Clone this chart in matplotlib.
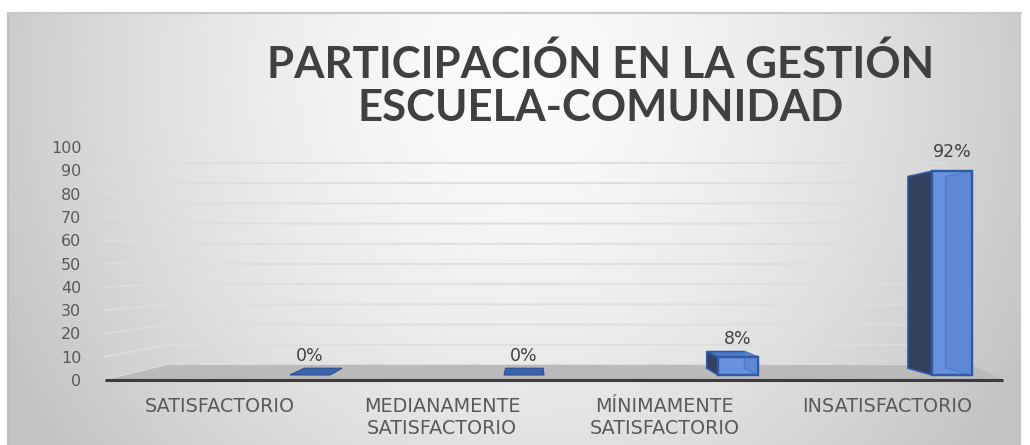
import numpy as np
import matplotlib
matplotlib.use("Agg")
import matplotlib.pyplot as plt
from matplotlib.patches import Polygon

# ---------------- data ----------------
categories = ["SATISFACTORIO", "MEDIANAMENTE\nSATISFACTORIO",
              "MÍNIMAMENTE\nSATISFACTORIO", "INSATISFACTORIO"]
values = [0, 0, 8, 92]
value_labels = ["0%", "0%", "8%", "92%"]
yticks = list(range(0, 101, 10))
title_lines = ["PARTICIPACIÓN EN LA GESTIÓN", "ESCUELA-COMUNIDAD"]

# ---------------- layout / style constants ----------------
W_PX, H_PX = 1030, 445
XLIM = (-0.517, 3.531)
YLIM = (0, 100)
VP_X, VP_Y, K = 1.394, 50.6, 0.94          # pseudo-3D vanishing point / depth shrink
BAR_X0, BAR_STEP, BAR_W = 0.315, 0.9627, 0.18
BAR_B, BAR_SCALE = 2.15, 0.951
FLOOR_BACK_Y, FLOOR_BACK_L, FLOOR_BACK_R = 6.44, -0.234, 3.374
WALL_SCALE, GRID_R = 0.867, 3.27

FRONT = "#6893dc"
EDGE = "#2f5aa8"
SIDE = "#34415d"
TOPC = "#4d78c6"
FLAT = "#3b62ad"
TXT = "#595959"

fig = plt.figure(figsize=(W_PX / 100, H_PX / 100), dpi=100)
fig.patch.set_facecolor("white")

# background gradient (chart area)
bg = fig.add_axes([0, 0, 1, 1])
bg.axis("off")
xx, yy = np.meshgrid(np.arange(8, 1021), np.arange(13, 446))
r = np.sqrt(((xx - 515) / 560.0) ** 2 + ((yy - 80) / 600.0) ** 2)
val = np.clip(252 - 55 * r ** 1.5, 195, 255) / 255.0
img = np.dstack([val, val, val])
bg.imshow(img, extent=(8, 1021, 446, 13), aspect="auto", zorder=0)
bg.plot([8, 8], [13, 445], color="#bdbdbd", lw=1.5, zorder=1)
bg.plot([8, 1021], [13, 13], color="#c8c8c8", lw=1.5, zorder=1)
bg.set_xlim(0, W_PX)
bg.set_ylim(H_PX, 0)

# main axes
ax = fig.add_axes([105 / W_PX, (H_PX - 380) / H_PX, 900 / W_PX, 233 / H_PX])
ax.set_xlim(*XLIM)
ax.set_ylim(*YLIM)
ax.patch.set_alpha(0)
for s in ax.spines.values():
    s.set_visible(False)


def proj(x, y):
    return VP_X + K * (x - VP_X), VP_Y + K * (y - VP_Y)


# grid lines (left wall + back wall)
for v in yticks:
    yb = FLOOR_BACK_Y + WALL_SCALE * v
    ax.plot([XLIM[0], FLOOR_BACK_L, GRID_R], [v, yb, yb], color="#dddddd",
            lw=1.3, zorder=1, clip_on=False, solid_joinstyle="miter")

# floor
floor = Polygon([(XLIM[0], 0), (XLIM[1], 0), (FLOOR_BACK_R, FLOOR_BACK_Y),
                 (FLOOR_BACK_L, FLOOR_BACK_Y)], closed=True, facecolor="#bababa",
                edgecolor="none", zorder=2, clip_on=False)
ax.add_patch(floor)
ax.plot([XLIM[0], XLIM[1] - 0.01], [0, 0], color="#3c3c3c", lw=2.2, zorder=3,
        clip_on=False, solid_capstyle="butt")

# bars
for i, v in enumerate(values):
    L = BAR_X0 + BAR_STEP * i
    R = L + BAR_W
    B = BAR_B
    T = B + BAR_SCALE * v
    if v == 0:
        pts = [(L, B), (R, B), proj(R, B), proj(L, B)]
        ax.add_patch(Polygon(pts, closed=True, facecolor=FLAT, edgecolor="#2c4f93",
                             lw=0.8, zorder=4, clip_on=False))
    else:
        sx = L if L > VP_X else R
        side = [(sx, B), (sx, T), proj(sx, T), proj(sx, B)]
        ax.add_patch(Polygon(side, closed=True, facecolor=SIDE, edgecolor=EDGE,
                             lw=1.2, zorder=4, clip_on=False))
        if T < VP_Y:
            top = [(L, T), (R, T), proj(R, T), proj(L, T)]
            ax.add_patch(Polygon(top, closed=True, facecolor=TOPC, edgecolor=EDGE,
                                 lw=1.2, zorder=4, clip_on=False))
        ax.add_patch(Polygon([(L, B), (R, B), (R, T), (L, T)], closed=True,
                             facecolor=FRONT, edgecolor=EDGE, lw=1.6, zorder=5,
                             clip_on=False))
        ox = R if L > VP_X else L
        far = [(ox, B), (ox, T), proj(ox, T), proj(ox, B)]
        ax.add_patch(Polygon(far, closed=True, facecolor="#5f88d2", edgecolor="#4f7cc8",
                             lw=1.0, zorder=6, clip_on=False, alpha=0.9))
        ax.add_patch(Polygon([(L, B), (R, B), (R, T), (L, T)], closed=True,
                             facecolor="none", edgecolor=EDGE, lw=1.6, zorder=7,
                             clip_on=False))
    ax.annotate(value_labels[i], xy=((L + R) / 2, T), xytext=(0, 7),
                textcoords="offset points", ha="center", va="bottom",
                fontsize=12.5, color="#404040", zorder=8)

# axes ticks
ax.set_yticks(yticks)
ax.set_yticklabels([str(t) for t in yticks], fontsize=11.5, color=TXT)
ax.set_xticks(range(len(categories)))
ax.set_xticklabels(categories, fontsize=13.8, color=TXT, family="DejaVu Sans",
                   linespacing=1.2, va="top")
ax.tick_params(axis="y", length=0, pad=17)
ax.tick_params(axis="x", length=0, pad=12)

# title
for j, line in enumerate(title_lines):
    fig.text(601 / W_PX, 1 - (64 + 44 * j) / H_PX, line, ha="center", va="center",
             fontsize=31.5, fontweight="bold", color="#404040", family="Lato")

fig.savefig("out.png", dpi=100)
